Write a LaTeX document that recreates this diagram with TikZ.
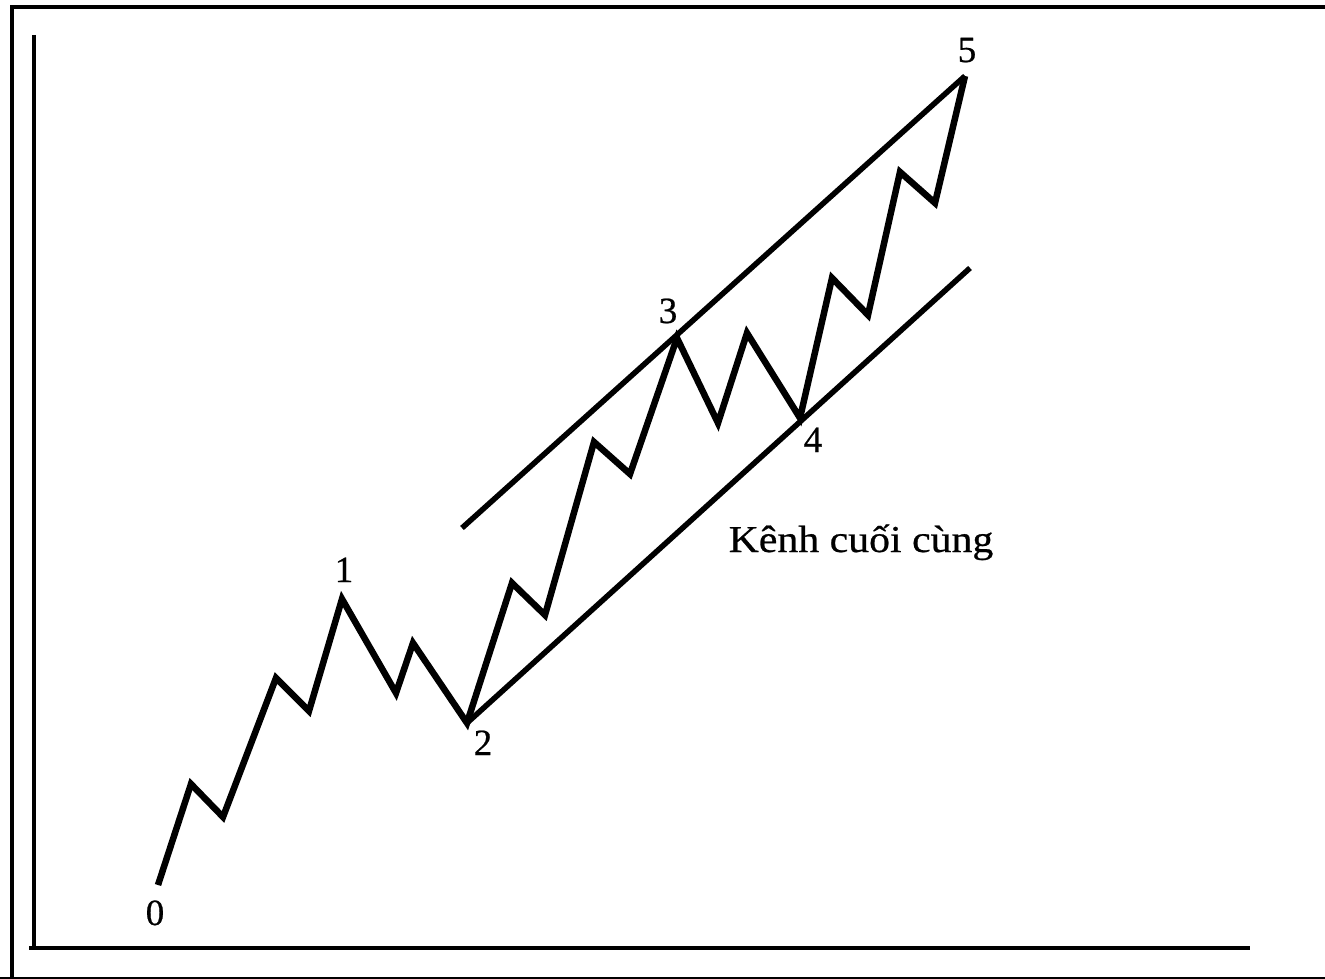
\documentclass[tikz,border=0pt]{standalone}
\usepackage{fontspec}
\setmainfont{Liberation Serif}[FakeBold=0.6]
\begin{document}
\begin{tikzpicture}[x=1pt,y=-1pt,
  wave/.style={line width=6.5pt,line join=miter,miter limit=10},
  chan/.style={line width=5.5pt},
  axis/.style={line width=4.5pt},
  frameline/.style={line width=4pt},
  lab/.style={font=\fontsize{37}{40}\selectfont,anchor=base,inner sep=0pt}]
\useasboundingbox (0,0) rectangle (1325,979);
\fill[white] (0,0) rectangle (1325,979);
% frame
\draw[frameline] (12,1000) -- (12,7) -- (1340,7);
\draw[line width=3pt] (0,978.5) -- (1340,978.5);
% axes
\coordinate (ytop) at (34,35);
\coordinate (orig) at (34,948);
\coordinate (xend) at (1250,948);
\draw[axis] (ytop) -- (orig);
\draw[axis] (29,948) -- (xend);
% wave points
\coordinate (p0) at (158,885);
\coordinate (a1) at (191,784);
\coordinate (a2) at (223,817);
\coordinate (a3) at (276,678);
\coordinate (a4) at (309,711);
\coordinate (p1) at (342,599);
\coordinate (b1) at (396,693);
\coordinate (b2) at (413,643);
\coordinate (p2) at (467,723);
\coordinate (c1) at (512,583);
\coordinate (c2) at (545,615);
\coordinate (c3) at (594,442);
\coordinate (c4) at (630,474);
\coordinate (p3) at (677,338);
\coordinate (d1) at (718,423);
\coordinate (d2) at (747,333);
\coordinate (p4) at (800,418);
\coordinate (e1) at (832,278);
\coordinate (e2) at (868,315);
\coordinate (e3) at (900,172);
\coordinate (e4) at (935,203);
\coordinate (p5) at (965,76);
\draw[wave] (p0) -- (a1) -- (a2) -- (a3) -- (a4) -- (p1) -- (b1) -- (b2) -- (p2)
  -- (c1) -- (c2) -- (c3) -- (c4) -- (p3) -- (d1) -- (d2) -- (p4)
  -- (e1) -- (e2) -- (e3) -- (e4) -- (p5);
% channel lines
\coordinate (u0) at (462,528);
\coordinate (l1) at (970,268);
\draw[chan] (u0) -- (p5);
\draw[chan] (p2) -- (l1);
% labels
\node[lab] (n0) at (155,925) {0};
\node[lab] (n1) at (344,582) {1};
\node[lab] (n2) at (483,755) {2};
\node[lab] (n3) at (668,323) {3};
\node[lab] (n4) at (813,452) {4};
\node[lab] (n5) at (967,62) {5};
\node[lab,font=\fontsize{38}{40}\selectfont] (txt) at (861,552) {\scalebox{1.1}[1]{Kênh cuối cùng}};
\end{tikzpicture}
\end{document}
